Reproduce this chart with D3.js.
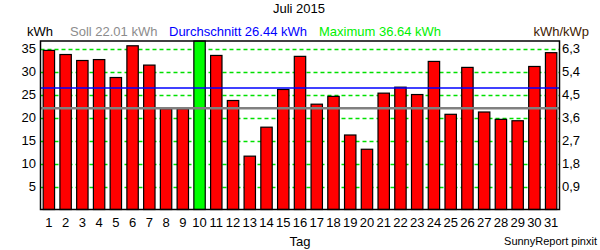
<!DOCTYPE html>
<html><head><meta charset="utf-8">
<script src="https://cdn.jsdelivr.net/npm/d3@7"></script>
<style>body{margin:0;background:#fff}svg{display:block;font-family:"Liberation Sans",Arial,sans-serif}</style>
</head><body>
<svg id="c" width="600" height="250"></svg>
<script>
const days = d3.range(1, 32).map(String);
const energy = [34.6,33.7,32.4,32.6,28.7,35.6,31.4,21.9,21.9,36.64,33.5,23.7,11.6,17.9,26.1,33.3,22.9,24.6,16.2,13.1,25.3,26.6,25.0,32.2,20.7,30.9,21.2,19.6,19.3,31.1,34.1];
const leftTicks = [5,10,15,20,25,30,35];
const rightTicks = ["0,9","1,8","2,7","3,6","4,5","5,4","6,3"];
const soll = 22.01, avg = 26.44, maxV = 36.64;
const title = "Juli 2015";

const svg = d3.select("#c");
const L = 40.5, R = 559.5, T = 41, B = 209.5;
const x = d3.scaleBand().domain(days).range([L, R]).paddingInner(0.32).paddingOuter(0.16);
const y = d3.scaleLinear().domain([0, maxV]).range([B, T]);

svg.append("text").attr("x", 299).attr("y", 12.5).attr("text-anchor", "middle").attr("font-size", 13).text(title);
svg.append("text").attr("x", 27).attr("y", 36).attr("font-size", 13).attr("fill", "#000").text("kWh");
svg.append("text").attr("x", 70).attr("y", 36).attr("font-size", 13).attr("fill", "#8c8c8c").text("Soll " + soll.toFixed(2) + " kWh");
svg.append("text").attr("x", 169).attr("y", 36).attr("font-size", 13).attr("fill", "#0000ff").text("Durchschnitt " + avg.toFixed(2) + " kWh");
svg.append("text").attr("x", 319).attr("y", 36).attr("font-size", 13).attr("fill", "#00f000").text("Maximum " + maxV.toFixed(2) + " kWh");
svg.append("text").attr("x", 589).attr("y", 36).attr("font-size", 13).attr("text-anchor", "end").attr("fill", "#402000").text("kWh/kWp");

// grid
svg.append("g").selectAll("line").data(leftTicks).join("line")
  .attr("x1", L).attr("x2", R).attr("y1", d => Math.round(y(d)) + 0.5).attr("y2", d => Math.round(y(d)) + 0.5)
  .attr("stroke", "#00e000").attr("stroke-width", 1.3).attr("stroke-dasharray", "4,3");

// bars
svg.append("g").selectAll("rect").data(energy).join("rect")
  .attr("x", (d, i) => x(days[i])).attr("width", x.bandwidth())
  .attr("y", d => y(d)).attr("height", d => B - y(d))
  .attr("fill", d => d === maxV ? "#00ff00" : "#ff0000")
  .attr("stroke", "#000").attr("stroke-width", 1.2);

// reference lines
svg.append("line").attr("x1", L).attr("x2", R).attr("y1", y(avg)).attr("y2", y(avg)).attr("stroke", "#0000ff").attr("stroke-width", 1.5);
svg.append("line").attr("x1", L).attr("x2", R).attr("y1", y(soll)).attr("y2", y(soll)).attr("stroke", "#808080").attr("stroke-width", 2.5);

// frame
svg.append("rect").attr("x", L).attr("y", T).attr("width", R - L).attr("height", B - T).attr("fill", "none").attr("stroke", "#000").attr("stroke-width", 1.5);

// axes labels
svg.append("g").selectAll("text").data(leftTicks).join("text")
  .attr("x", 36).attr("y", d => y(d)).attr("dy", "0.36em").attr("text-anchor", "end").attr("font-size", 13).text(d => d);
svg.append("g").selectAll("text").data(rightTicks).join("text")
  .attr("x", 562).attr("y", (d, i) => y(leftTicks[i])).attr("dy", "0.36em").attr("font-size", 13).text(d => d);
svg.append("g").selectAll("text").data(days).join("text")
  .attr("x", d => x(d) + x.bandwidth() / 2).attr("y", 227).attr("text-anchor", "middle").attr("font-size", 13).text(d => d);

svg.append("text").attr("x", 300).attr("y", 246).attr("text-anchor", "middle").attr("font-size", 13).text("Tag");
svg.append("text").attr("x", 597).attr("y", 245).attr("text-anchor", "end").attr("font-size", 11).text("SunnyReport pinxit");
</script>
</body></html>
